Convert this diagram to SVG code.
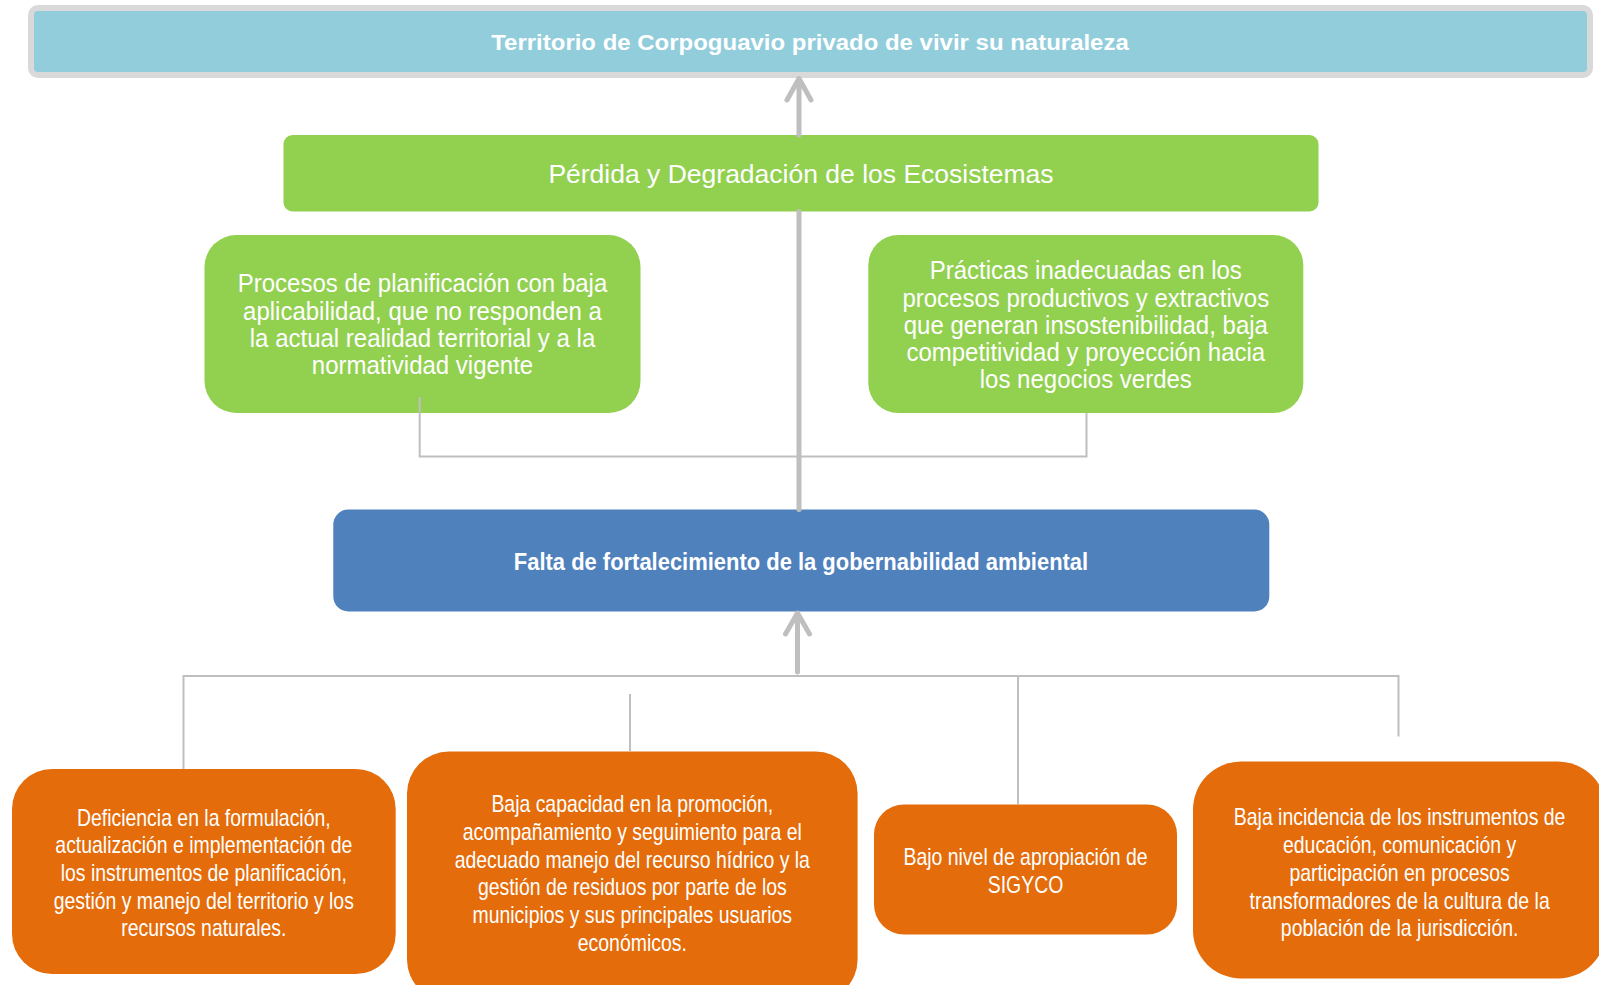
<svg xmlns="http://www.w3.org/2000/svg" width="1599" height="985" viewBox="0 0 1599 985">
<style>
text{font-family:"Liberation Sans",Arial,sans-serif;fill:#FFFFFF;text-anchor:middle}
.b{font-weight:bold;font-size:22px}
.bb{font-weight:bold;font-size:23px}
.g{font-size:25px}
.gb{font-size:26.5px}
.o{font-size:23px}
.thick{stroke:#BFBFBF;stroke-width:5;fill:none;stroke-linecap:round;stroke-linejoin:round}
.thin{stroke:#BFBFBF;stroke-width:2;fill:none}
.green{fill:#92D050}
.orange{fill:#E46C0A}
</style>
<rect width="1599" height="985" fill="#FFFFFF"/>
<g id="top">
<rect x="31" y="8" width="1559" height="67" rx="7" fill="#92CDDC" stroke="#D9D9D9" stroke-width="6"/>
<text class="b" transform="translate(810 0) scale(1.09 1)"><tspan x="0" y="50">Territorio de Corpoguavio privado de vivir su naturaleza</tspan></text>
</g>
<g id="perdida">
<rect class="green" x="283.5" y="135" width="1035" height="76.5" rx="9"/>
<text class="gb" x="801" y="182.7">Pérdida y Degradación de los Ecosistemas</text>
</g>
<g id="procesos">
<rect class="green" x="204.5" y="235" width="436" height="178" rx="32"/>
<text class="g" transform="translate(422.5 0) scale(0.96 1)"><tspan x="0" y="292.3">Procesos de planificación con baja</tspan><tspan x="0" y="319.6">aplicabilidad, que no responden a</tspan><tspan x="0" y="346.9">la actual realidad territorial y a la</tspan><tspan x="0" y="374.2">normatividad vigente</tspan></text>
</g>
<g id="practicas">
<rect class="green" x="868.3" y="235" width="435" height="178" rx="30"/>
<text class="g" transform="translate(1085.8 0) scale(0.96 1)"><tspan x="0" y="279.3">Prácticas inadecuadas en los</tspan><tspan x="0" y="306.6">procesos productivos y extractivos</tspan><tspan x="0" y="333.9">que generan insostenibilidad, baja</tspan><tspan x="0" y="361.2">competitividad y proyección hacia</tspan><tspan x="0" y="388.5">los negocios verdes</tspan></text>
</g>
<g id="falta">
<rect x="333.3" y="509.5" width="936" height="102" rx="15" fill="#4F81BD"/>
<text class="bb" transform="translate(801 0) scale(0.955 1)"><tspan x="0" y="570">Falta de fortalecimiento de la gobernabilidad ambiental</tspan></text>
</g>
<g id="deficiencia">
<rect class="orange" x="12" y="769" width="383.7" height="205" rx="40"/>
<text class="o" transform="translate(203.8 0) scale(0.845 1)"><tspan x="0" y="825.7">Deficiencia en la formulación,</tspan><tspan x="0" y="853.4">actualización e implementación de</tspan><tspan x="0" y="881.1">los instrumentos de planificación,</tspan><tspan x="0" y="908.8">gestión y manejo del territorio y los</tspan><tspan x="0" y="936.5">recursos naturales.</tspan></text>
</g>
<g id="baja-capacidad">
<rect class="orange" x="407" y="751.5" width="450.6" height="250" rx="42"/>
<text class="o" transform="translate(632.3 0) scale(0.845 1)"><tspan x="0" y="812.3">Baja capacidad en la promoción,</tspan><tspan x="0" y="840">acompañamiento y seguimiento para el</tspan><tspan x="0" y="867.7">adecuado manejo del recurso hídrico y la</tspan><tspan x="0" y="895.4">gestión de residuos por parte de los</tspan><tspan x="0" y="923.1">municipios y sus principales usuarios</tspan><tspan x="0" y="950.8">económicos.</tspan></text>
</g>
<g id="sigyco">
<rect class="orange" x="874" y="804.5" width="303" height="130" rx="30"/>
<text class="o" transform="translate(1025.5 0) scale(0.845 1)"><tspan x="0" y="865.5">Bajo nivel de apropiación de</tspan><tspan x="0" y="893.2">SIGYCO</tspan></text>
</g>
<g id="baja-incidencia">
<rect class="orange" x="1193" y="761.5" width="413" height="217" rx="48"/>
<text class="o" transform="translate(1399.6 0) scale(0.845 1)"><tspan x="0" y="825.5">Baja incidencia de los instrumentos de</tspan><tspan x="0" y="853.2">educación, comunicación y</tspan><tspan x="0" y="880.9">participación en procesos</tspan><tspan x="0" y="908.6">transformadores de la cultura de la</tspan><tspan x="0" y="936.3">población de la jurisdicción.</tspan></text>
</g>
<g id="connectors">
<path class="thick" d="M799,80 V135 M787,100 L799,78.5 L811,100"/>
<path class="thick" d="M799,211.5 V509.5"/>
<path class="thin" d="M419.7,397 V456.5 H1086.5 V413"/>
<path class="thick" d="M797.5,672 V614 M785.5,634 L797.5,613 L809.5,634"/>
<path class="thin" d="M183.5,769 V676 H1398.5 V736.5"/>
<path class="thin" d="M630,694 V751.5"/>
<path class="thin" d="M1018,676 V804.5"/>
</g>
</svg>
